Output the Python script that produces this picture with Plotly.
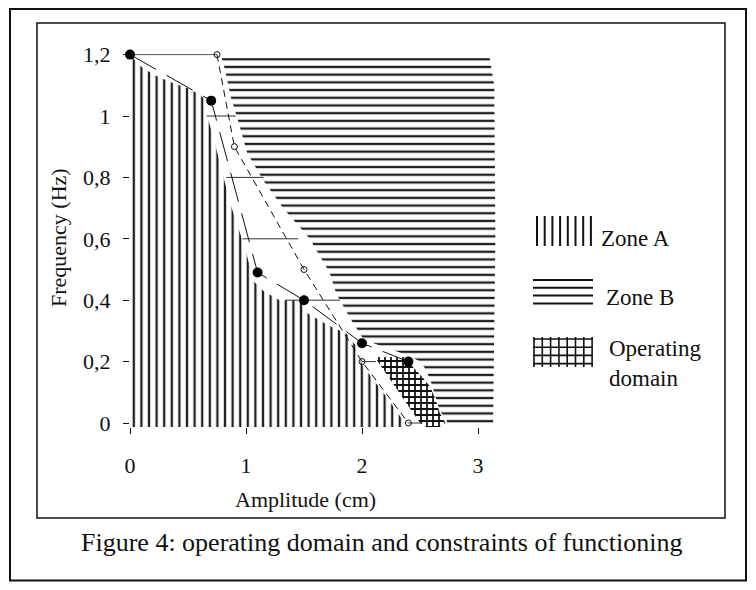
import plotly.graph_objects as go

# page is 756x590; the html body has an 8px margin, so the figure is 740x574
PAGE_W, PAGE_H = 756, 590
OFF = 8
W, H = PAGE_W - 2 * OFF, PAGE_H - 2 * OFF

# ---------------- data ----------------
amp_solid = [0.0, 0.7, 1.1, 1.5, 2.0, 2.4]
freq_solid = [1.2, 1.05, 0.49, 0.40, 0.26, 0.20]

amp_open = [0.75, 0.9, 1.5, 2.0, 2.4]
freq_open = [1.2, 0.9, 0.5, 0.2, 0.0]

link_amp = [0.0, 0.75]
link_freq = [1.2, 1.2]

gap_levels = [1.0, 0.8, 0.6, 0.4, 0.2, 0.0]
gap_from = [0.66, 0.83, 0.97, 1.34, 2.0, 2.4]
gap_to = [0.91, 1.15, 1.45, 1.81, 2.12, 2.52]

zoneA_amp = [0.0, 0.08, 0.2, 0.35, 0.5, 0.6, 0.66, 0.665, 0.72, 0.79, 0.86, 0.93, 0.99,
             1.04, 1.07, 1.15, 1.29, 1.47, 1.52, 1.7, 1.87, 1.97, 2.0, 2.2, 2.37, 2.37, 0.0]
zoneA_freq = [1.2, 1.165, 1.135, 1.11, 1.09, 1.07, 1.05, 1.0, 0.93, 0.82, 0.72, 0.64, 0.57,
              0.5, 0.46, 0.43, 0.40, 0.40, 0.36, 0.32, 0.29, 0.24, 0.19, 0.09, 0.0, -0.02, -0.02]

zoneB_amp = [0.79, 3.10, 3.14, 3.15, 3.13, 3.10, 2.74, 2.73, 2.67, 2.63, 2.59, 2.54, 2.50,
             2.40, 2.28, 2.10, 2.00, 1.90, 1.78, 1.72, 1.55, 1.32, 1.15, 1.01, 0.92, 0.87, 0.82]
zoneB_freq = [1.19, 1.19, 1.10, 0.60, 0.0, -0.02, -0.02, 0.01, 0.04, 0.09, 0.14, 0.18, 0.20,
              0.22, 0.235, 0.26, 0.28, 0.34, 0.42, 0.49, 0.60, 0.70, 0.79, 0.88, 1.0, 1.06, 1.15]

op_amp = [2.11, 2.40, 2.44, 2.52, 2.59, 2.64, 2.67, 2.72, 2.66, 2.56, 2.50]
op_freq = [0.215, 0.215, 0.182, 0.15, 0.117, 0.07, 0.033, 0.0, -0.015, -0.015, 0.0]

x_ticks = [0, 1, 2, 3]
x_tick_labels = ["0", "1", "2", "3"]
y_ticks = [0, 0.2, 0.4, 0.6, 0.8, 1.0, 1.2]
y_tick_labels = ["0", "0,2", "0,4", "0,6", "0,8", "1", "1,2"]

legend_labels = ["Zone A", "Zone B", "Operating<br>domain"]


# ---------------- helpers (page pixel -> paper) ----------------
def px(x):
    return (x - OFF) / W


def py(y):
    return 1 - (y - OFF) / H


FONT = "Liberation Serif, Times New Roman, serif"
INK = "#111111"

fig = go.Figure()

fig.add_trace(go.Scatter(
    x=zoneA_amp, y=zoneA_freq, mode="lines", fill="toself",
    line=dict(width=0), fillcolor="white",
    fillpattern=dict(shape="|", size=7.6, solidity=0.3, fgcolor="#1e1e1e",
                     bgcolor="white", fgopacity=1),
    hoverinfo="skip", showlegend=False))

fig.add_trace(go.Scatter(
    x=zoneB_amp, y=zoneB_freq, mode="lines", fill="toself",
    line=dict(width=0), fillcolor="white",
    fillpattern=dict(shape="-", size=7.7, solidity=0.3, fgcolor="#1e1e1e",
                     bgcolor="white", fgopacity=1),
    hoverinfo="skip", showlegend=False))

fig.add_trace(go.Scatter(
    x=op_amp, y=op_freq, mode="lines", fill="toself",
    line=dict(width=0), fillcolor="white",
    fillpattern=dict(shape="+", size=6, solidity=0.5, fgcolor="#111111",
                     bgcolor="white", fgopacity=1),
    hoverinfo="skip", showlegend=False))

# horizontal gap segments
gx, gy = [], []
for lv, a, b in zip(gap_levels, gap_from, gap_to):
    gx += [a, b, None]
    gy += [lv, lv, None]
fig.add_trace(go.Scatter(x=gx, y=gy, mode="lines",
                         line=dict(color="#333333", width=1),
                         hoverinfo="skip", showlegend=False, cliponaxis=False))

fig.add_trace(go.Scatter(x=link_amp, y=link_freq, mode="lines",
                         line=dict(color="#555555", width=1),
                         hoverinfo="skip", showlegend=False, cliponaxis=False))

fig.add_trace(go.Scatter(x=amp_open, y=freq_open, mode="lines+markers",
                         line=dict(color=INK, width=1, dash="7px,5px"),
                         marker=dict(symbol="circle-open", size=6,
                                     color=INK, line=dict(width=1)),
                         hoverinfo="skip", showlegend=False, cliponaxis=False))

fig.add_trace(go.Scatter(x=amp_solid, y=freq_solid, mode="lines+markers",
                         line=dict(color=INK, width=1, dash="30px,12px"),
                         marker=dict(symbol="circle", size=10, color="black"),
                         hoverinfo="skip", showlegend=False, cliponaxis=False))

X0PX, XSC = 130, 116.0
Y0PX, YSC = 423, 307.0
x_dom = [px(130), px(500)]
y_dom = [py(427), py(40)]

fig.update_layout(
    width=W, height=H,
    margin=dict(l=0, r=0, t=0, b=0, autoexpand=False),
    paper_bgcolor="white", plot_bgcolor="white",
    font=dict(family=FONT, color=INK, size=22),
    showlegend=False,
    xaxis=dict(domain=x_dom, range=[0, (500 - X0PX) / XSC],
               tickvals=x_ticks, ticktext=x_tick_labels,
               ticks="outside", ticklen=6, tickwidth=1, tickcolor=INK,
               ticklabelstandoff=13,
               showgrid=False, zeroline=False, showline=False,
               tickfont=dict(family=FONT, size=22, color=INK)),
    yaxis=dict(domain=y_dom, range=[-(427 - Y0PX) / YSC, (Y0PX - 40) / YSC],
               tickvals=y_ticks, ticktext=y_tick_labels,
               ticks="outside", ticklen=6, tickwidth=1, tickcolor=INK,
               ticklabelstandoff=8,
               showgrid=False, zeroline=False, showline=False,
               tickfont=dict(family=FONT, size=22, color=INK)),
)

shapes = []
# outer frame and inner frame
shapes.append(dict(type="rect", xref="paper", yref="paper",
                   x0=px(10), x1=px(746), y0=py(580.5), y1=py(9),
                   line=dict(color=INK, width=2)))
shapes.append(dict(type="rect", xref="paper", yref="paper",
                   x0=px(37), x1=px(725), y0=py(518), y1=py(23),
                   line=dict(color=INK, width=1.5)))

# legend swatches
for i in range(8):
    xx = 537 + i * 7.7
    shapes.append(dict(type="line", xref="paper", yref="paper",
                       x0=px(xx), x1=px(xx), y0=py(246), y1=py(216),
                       line=dict(color=INK, width=2)))
for i in range(4):
    yy = 280 + i * 7.8
    shapes.append(dict(type="line", xref="paper", yref="paper",
                       x0=px(533), x1=px(593), y0=py(yy), y1=py(yy),
                       line=dict(color=INK, width=2)))
for i in range(8):
    xx = 534 + i * 8.3
    shapes.append(dict(type="line", xref="paper", yref="paper",
                       x0=px(xx), x1=px(xx), y0=py(367), y1=py(337),
                       line=dict(color=INK, width=1.6)))
for i in range(4):
    yy = 339 + i * 8.2
    shapes.append(dict(type="line", xref="paper", yref="paper",
                       x0=px(533), x1=px(593), y0=py(yy), y1=py(yy),
                       line=dict(color=INK, width=1.6)))
fig.update_layout(shapes=shapes)

ann = []
ann.append(dict(text="Amplitude (cm)", xref="paper", yref="paper",
                x=px(305), y=py(499), showarrow=False,
                xanchor="center", yanchor="middle",
                font=dict(family=FONT, size=22, color=INK)))
ann.append(dict(text="Frequency (Hz)", xref="paper", yref="paper",
                x=px(58), y=py(238), showarrow=False, textangle=-90,
                xanchor="center", yanchor="middle",
                font=dict(family=FONT, size=22, color=INK)))
ann.append(dict(text="Figure 4: operating domain and constraints of functioning",
                xref="paper", yref="paper", x=px(382), y=py(542), showarrow=False,
                xanchor="center", yanchor="middle",
                font=dict(family=FONT, size=26, color=INK)))
leg_pos = [(599, 238), (604, 297), (607, 363)]
for lab, (lx, ly) in zip(legend_labels, leg_pos):
    ann.append(dict(text=lab, xref="paper", yref="paper", x=px(lx), y=py(ly),
                    showarrow=False, xanchor="left", yanchor="middle", align="left",
                    font=dict(family=FONT, size=23, color=INK)))
fig.update_layout(annotations=ann)

fig.write_html("out.html")
